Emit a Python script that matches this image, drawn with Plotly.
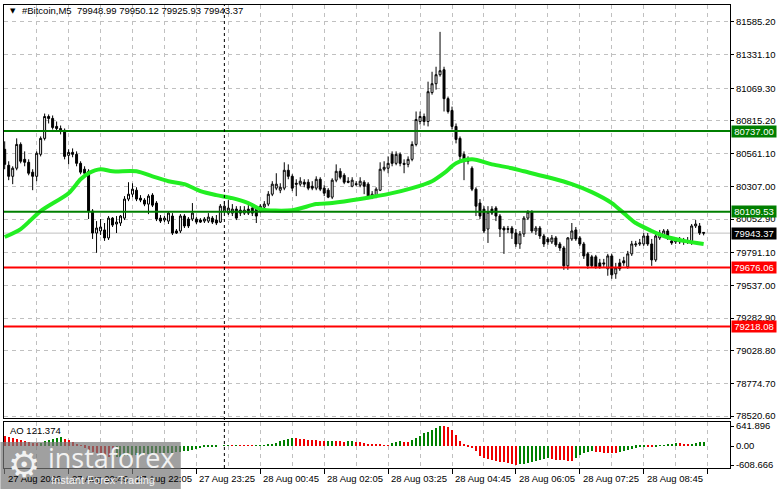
import pandas as pd
import plotly.graph_objects as go
from plotly.subplots import make_subplots

# #Bitcoin M5 bars, 27 Aug 19:25 -> 28 Aug 10:00
opens = [80595, 80471, 80385, 80448, 80633, 80517, 80494, 80417, 80385, 80556,
         80680, 80850, 80835, 80773, 80742, 80742, 80548, 80571, 80556, 80486,
         80440, 80424, 80115, 79944, 79960, 79968, 79906, 80060, 80014, 80022,
         80060, 80208, 80246, 80277, 80215, 80200, 80169, 80239, 80177, 80060,
         80045, 80037, 80076, 79960, 79960, 80076, 80053, 80053, 80053, 80045,
         80037, 80037, 80060, 80045, 80029, 80115, 80099, 80099, 80130, 80122,
         80099, 80130, 80138, 80138, 80115, 80146, 80169, 80246, 80293, 80277,
         80293, 80432, 80385, 80331, 80324, 80339, 80339, 80308, 80293, 80362,
         80293, 80277, 80223, 80355, 80424, 80393, 80347, 80308, 80327, 80316,
         80339, 80324, 80223, 80231, 80277, 80440, 80448, 80556, 80486, 80556,
         80486, 80478, 80517, 80633, 80811, 80850, 80811, 81036, 81105, 81175,
         81214, 80989, 80897, 80773, 80680, 80556, 80517, 80448, 80285, 80177,
         80130, 79975, 80130, 80138, 80076, 79983, 79978, 79983, 79944, 79859,
         79937, 80060, 80107, 79960, 79983, 79921, 79898, 79875, 79906, 79859,
         79828, 79689, 79898, 79968, 79906, 79859, 79782, 79759, 79759, 79712,
         79712, 79666, 79766, 79627, 79712, 79728, 79681, 79782, 79852, 79859,
         79859, 79921, 79859, 79735, 79906, 79929, 79960, 79883, 79875, 79890,
         79875, 79883, 79867, 79999, 79999, 79948.99]
highs = [80657, 80502, 80463, 80680, 80649, 80579, 80517, 80440, 80579, 80695,
         80873, 80866, 80858, 80811, 80780, 80757, 80595, 80602, 80579, 80502,
         80463, 80440, 80130, 80037, 80053, 80022, 80076, 80068, 80076, 80084,
         80231, 80339, 80331, 80300, 80239, 80215, 80246, 80254, 80192, 80084,
         80076, 80115, 80099, 79975, 80091, 80091, 80068, 80177, 80068, 80060,
         80068, 80099, 80076, 80084, 80169, 80192, 80200, 80169, 80153, 80153,
         80153, 80161, 80177, 80153, 80169, 80192, 80270, 80347, 80409, 80331,
         80494, 80478, 80401, 80362, 80378, 80362, 80362, 80347, 80385, 80378,
         80316, 80293, 80370, 80478, 80448, 80409, 80378, 80378, 80347, 80378,
         80355, 80339, 80270, 80300, 80494, 80502, 80540, 80579, 80579, 80571,
         80517, 80540, 80657, 80889, 80889, 80873, 81121, 81198, 81237, 81508,
         81237, 81005, 80927, 80796, 80695, 80579, 80540, 80463, 80300, 80208,
         80153, 80153, 80153, 80153, 80091, 79999, 79999, 79999, 79975, 79960,
         80076, 80122, 80122, 79999, 79999, 79937, 79913, 79929, 79921, 79875,
         79844, 79913, 80022, 79991, 79921, 79875, 79797, 79774, 79774, 79743,
         79743, 79782, 79782, 79712, 79743, 79759, 79805, 79883, 79883, 79898,
         79944, 79944, 79898, 79937, 79968, 79975, 79975, 79913, 79906, 79913,
         79906, 79913, 80014, 80045, 80022, 79950.12]
lows = [80440, 80355, 80324, 80432, 80486, 80463, 80393, 80277, 80347, 80540,
        80664, 80796, 80749, 80734, 80711, 80517, 80478, 80533, 80463, 80401,
        80385, 80053, 79898, 79790, 79929, 79883, 79890, 79991, 79944, 79999,
        80045, 80192, 80223, 80192, 80184, 80153, 80091, 80146, 80037, 80022,
        80029, 80014, 79929, 79937, 79944, 79983, 79983, 80037, 80014, 80022,
        80022, 80022, 80014, 80006, 80022, 80099, 80084, 80076, 80045, 80076,
        80084, 80084, 80076, 80022, 80099, 80130, 80153, 80231, 80277, 80254,
        80277, 80362, 80270, 80231, 80308, 80300, 80277, 80277, 80277, 80270,
        80231, 80215, 80208, 80339, 80362, 80324, 80331, 80300, 80308, 80300,
        80246, 80208, 80208, 80215, 80270, 80424, 80409, 80463, 80471, 80463,
        80409, 80455, 80502, 80618, 80788, 80780, 80773, 81020, 81059, 81160,
        80889, 80873, 80749, 80641, 80502, 80355, 80478, 80270, 80076, 80053,
        79944, 79867, 80084, 80037, 79913, 79782, 79944, 79898, 79836, 79821,
        79913, 80045, 79944, 79929, 79898, 79836, 79852, 79859, 79836, 79805,
        79658, 79658, 79883, 79883, 79844, 79743, 79666, 79673, 79666, 79666,
        79681, 79612, 79588, 79588, 79650, 79689, 79666, 79766, 79836, 79844,
        79844, 79844, 79689, 79720, 79890, 79913, 79890, 79852, 79859, 79859,
        79852, 79859, 79852, 79983, 79929, 79925.93]
closes = [80478, 80385, 80448, 80633, 80502, 80494, 80409, 80385, 80564, 80680,
          80850, 80835, 80765, 80757, 80757, 80540, 80571, 80556, 80486, 80417,
          80409, 80115, 79944, 79983, 79991, 79906, 80060, 80006, 80029, 80076,
          80208, 80246, 80285, 80208, 80200, 80169, 80231, 80161, 80053, 80037,
          80060, 80099, 79944, 79944, 80076, 79999, 79999, 80099, 80029, 80029,
          80053, 80068, 80029, 80022, 80153, 80153, 80138, 80130, 80060, 80099,
          80122, 80099, 80099, 80076, 80153, 80169, 80246, 80324, 80324, 80300,
          80432, 80385, 80293, 80324, 80347, 80324, 80293, 80293, 80362, 80285,
          80254, 80223, 80355, 80424, 80378, 80339, 80339, 80355, 80322, 80347,
          80308, 80223, 80246, 80285, 80440, 80455, 80486, 80486, 80556, 80486,
          80478, 80517, 80633, 80827, 80850, 80811, 81043, 81105, 81175, 81206,
          80989, 80889, 80773, 80672, 80540, 80517, 80502, 80285, 80153, 80076,
          79960, 80107, 80099, 80076, 79975, 79968, 79973, 79944, 79859, 79937,
          80060, 80107, 79960, 79983, 79921, 79859, 79875, 79906, 79852, 79828,
          79689, 79906, 79960, 79898, 79859, 79766, 79689, 79689, 79681, 79681,
          79704, 79766, 79619, 79673, 79666, 79712, 79782, 79859, 79859, 79867,
          79921, 79859, 79735, 79921, 79944, 79960, 79906, 79867, 79883, 79875,
          79883, 79875, 79999, 80014, 79944, 79943.37]

# moving average (green line), sampled at bar numbers
ma_bar = [0, 4, 9, 16, 19, 21, 24, 27, 33, 37, 41, 45, 49, 53, 57, 61, 64, 72,
          78, 82, 89, 97, 102, 107, 110, 113, 117, 122, 127, 130, 137, 142, 147,
          152, 155, 158, 162, 165, 170, 175]
ma_val = [79913, 79975, 80115, 80254, 80362, 80409, 80440, 80424, 80424, 80385,
          80347, 80324, 80270, 80239, 80215, 80177, 80130, 80122, 80169, 80177,
          80208, 80254, 80293, 80347, 80409, 80486, 80517, 80478, 80448, 80424,
          80370, 80324, 80262, 80177, 80099, 80022, 79960, 79921, 79883, 79859]

# Awesome Oscillator
ao = [320, 280, 257, 235, 203, 171, 128, 90, 80, 110,
      150, 190, 230, 270, 280, 235, 180, 128, 60, 5,
      -60, -120, -180, -230, -280, -320, -350, -370, -360, -350,
      -335, -320, -305, -290, -280, -270, -260, -250, -240, -232,
      -225, -218, -210, -200, -190, -170, -150, -120, -95, -70,
      -45, -30, -20, -10, 0, 5, 10, 8, 12, 10,
      8, 6, 4, 10, 15, 25, 45, 75, 107, 150,
      190, 225, 257, 240, 225, 210, 195, 185, 175, 165,
      158, 165, 170, 160, 150, 140, 145, 150, 135, 115,
      90, 70, 55, 45, 35, 28, 22, 85, 139, 160,
      139, 118, 193, 246, 332, 407, 460, 514, 589, 641.896,
      630, 620, 514, 353, 160, 32, -21, -75, -160, -310,
      -375, -417, -450, -480, -503, -524, -556, -578, -608.666, -588,
      -565, -545, -515, -480, -450, -417, -395, -417, -438, -450,
      -460, -470, -476, -395, -290, -214, -182, -160, -182, -203,
      -214, -220, -225, -235, -182, -160, -128, -96, -64, -32,
      -10, -12, -16, -8, 10, 21, 32, 53, 96, 85,
      64, 53, 75, 96, 118, 121.374]

price_ticks = [81585.20, 81331.10, 81069.30, 80815.20, 80561.10, 80307.00, 80052.90,
               79791.10, 79537.00, 79282.90, 79028.80, 78774.70, 78520.60]
ao_ticks = [641.896, 0.0, -608.666]
ao_labels = ["641.896", "0.00", "-608.666"]
green_levels = [80737.00, 80109.53]
red_levels = [79676.06, 79218.08]
last_price = 79943.37
time_labels = ["27 Aug 2026", "27 Aug 20:45", "27 Aug 22:05", "27 Aug 23:25",
               "28 Aug 00:45", "28 Aug 02:05", "28 Aug 03:25", "28 Aug 04:45",
               "28 Aug 06:05", "28 Aug 07:25", "28 Aug 08:45"]

BAR = pd.Timedelta(minutes=5)
times = pd.date_range("2026-08-27 19:25", periods=len(closes), freq="5min")
ma_times = [times[i] for i in ma_bar]
label_times = [times[16 * k] for k in range(len(time_labels))]
day_break = pd.Timestamp("2026-08-28 00:00")

FONT = "Liberation Sans, Arial, sans-serif"
GRID = "#c0c0c0"
DARK_GREEN = "#007f00"
RED = "#ff0000"

fig = make_subplots(rows=2, cols=1, shared_xaxes=True, vertical_spacing=0.0086,
                    row_heights=[0.9, 0.1])

fig.add_trace(go.Candlestick(
    x=times, open=opens, high=highs, low=lows, close=closes,
    increasing=dict(line=dict(color="black", width=1), fillcolor="white"),
    decreasing=dict(line=dict(color="black", width=1), fillcolor="black"),
    whiskerwidth=0, showlegend=False, hoverinfo="skip"), row=1, col=1)

fig.add_trace(go.Scatter(
    x=ma_times, y=ma_val, mode="lines",
    line=dict(color="#22ee22", width=4, shape="spline", smoothing=0.8),
    showlegend=False, hoverinfo="skip"), row=1, col=1)

ao_colors = ["#008000" if i and ao[i] > ao[i - 1] else "#ee0000" for i in range(len(ao))]
fig.add_trace(go.Bar(
    x=times, y=ao, marker=dict(color=ao_colors, line=dict(width=0)),
    width=80000, showlegend=False, hoverinfo="skip"), row=2, col=1)

# horizontal levels
shapes = [dict(type="line", xref="paper", x0=0, x1=1, yref="y", y0=last_price, y1=last_price,
               line=dict(color=GRID, width=1), layer="below")]
for lv in green_levels:
    shapes.append(dict(type="line", xref="paper", x0=0, x1=1, yref="y", y0=lv, y1=lv,
                       line=dict(color=DARK_GREEN, width=2)))
for lv in red_levels:
    shapes.append(dict(type="line", xref="paper", x0=0, x1=1, yref="y", y0=lv, y1=lv,
                       line=dict(color=RED, width=2)))
# period separator
shapes.append(dict(type="line", xref="x", x0=day_break, x1=day_break, yref="paper", y0=0, y1=1,
                   line=dict(color="black", width=1, dash="3px,3px")))
# watermark box
shapes.append(dict(type="rect", xref="paper", yref="paper", x0=-0.005, x1=0.2435,
                   y0=-0.046, y1=0.056, fillcolor="rgba(120,120,120,0.7)",
                   line=dict(width=0), layer="above"))

annotations = []


def price_box(val, bg):
    annotations.append(dict(
        xref="paper", x=1, xanchor="left", xshift=1, yref="y", y=val, yanchor="middle",
        text=f"{val:.2f}", showarrow=False, bgcolor=bg, width=44, borderpad=0,
        font=dict(family=FONT, size=9.5, color="white")))


for lv in green_levels:
    price_box(lv, DARK_GREEN)
for lv in red_levels:
    price_box(lv, RED)
price_box(last_price, "black")

for t, txt in zip(label_times, time_labels):
    annotations.append(dict(
        xref="x2", x=t, xanchor="left", xshift=1, yref="paper", y=-0.022, yanchor="middle",
        text=txt, showarrow=False, font=dict(family=FONT, size=9.5, color="black")))

annotations += [
    dict(xref="paper", x=0.0055, xanchor="left", yref="paper", y=0.9875, yanchor="middle",
         text="▼", showarrow=False, font=dict(family="DejaVu Sans", size=7, color="black")),
    dict(xref="paper", x=0.022, xanchor="left", yref="paper", y=0.9875, yanchor="middle",
         text="#Bitcoin,M5\u00a0\u00a079948.99 79950.12 79925.93 79943.37", showarrow=False,
         font=dict(family=FONT, size=9.5, color="black")),
    dict(xref="paper", x=0.006, xanchor="left", yref="paper", y=0.08, yanchor="middle",
         text="AO 121.374", showarrow=False, font=dict(family=FONT, size=9.5, color="black")),
    # instaforex watermark
    dict(xref="paper", x=0.003, xanchor="left", yref="paper", y=0.008, yanchor="middle",
         text="⚙", showarrow=False, font=dict(family="DejaVu Sans", size=36, color="#f2f2f2")),
    dict(xref="paper", x=0.058, xanchor="left", yref="paper", y=0.022, yanchor="middle",
         text="instaforex", showarrow=False, font=dict(family="Open Sans, sans-serif", size=27, color="#f2f2f2")),
    dict(xref="paper", x=0.062, xanchor="left", yref="paper", y=-0.026, yanchor="middle",
         text="Instant Forex Trading", showarrow=False, font=dict(family=FONT, size=11, color="#f2f2f2")),
]

x_range = [times[0] - 0.175 * BAR, times[0] + 181.6 * BAR]
grid_x = dict(showgrid=True, gridcolor=GRID, griddash="4px,4px", gridwidth=1,
              tick0=times[0], dtick=40 * 60 * 1000)

fig.update_layout(
    width=781, height=489,
    margin=dict(l=3, r=51, t=3, b=21),
    paper_bgcolor="white", plot_bgcolor="white",
    font=dict(family=FONT, size=9.5, color="black"),
    shapes=shapes, annotations=annotations, bargap=0,
    xaxis=dict(range=x_range, rangeslider=dict(visible=False), showticklabels=False, ticks="",
               showline=True, linecolor="black", linewidth=1, mirror=True, **grid_x),
    xaxis2=dict(range=x_range, showticklabels=False, ticks="outside", ticklen=5, tickcolor="black",
                tick0=times[0], dtick=80 * 60 * 1000, showgrid=True, gridcolor=GRID,
                griddash="4px,4px", minor=dict(tick0=times[0], dtick=40 * 60 * 1000, showgrid=True,
                                                gridcolor=GRID, griddash="4px,4px", ticks=""),
                showline=True, linecolor="black", linewidth=1, mirror=True),
    yaxis=dict(side="right", range=[78505, 81717], tickmode="array", tickvals=price_ticks,
               ticktext=[f"{v:.2f}" for v in price_ticks], ticks="outside", ticklen=3,
               tickcolor="black", showgrid=True, gridcolor=GRID, griddash="4px,4px",
               zeroline=False, showline=True, linecolor="black", linewidth=1, mirror=True),
    yaxis2=dict(side="right", range=[-704, 768], tickmode="array", tickvals=ao_ticks,
                ticktext=ao_labels, ticks="outside", ticklen=3, tickcolor="black",
                showgrid=False, zeroline=False, showline=True, linecolor="black",
                linewidth=1, mirror=True),
)

# the page body has an 8px default margin; drop it so the figure sits at the corner
fig.write_html("out.html", config={"displayModeBar": False},
               post_script="document.body.style.margin='0';")
